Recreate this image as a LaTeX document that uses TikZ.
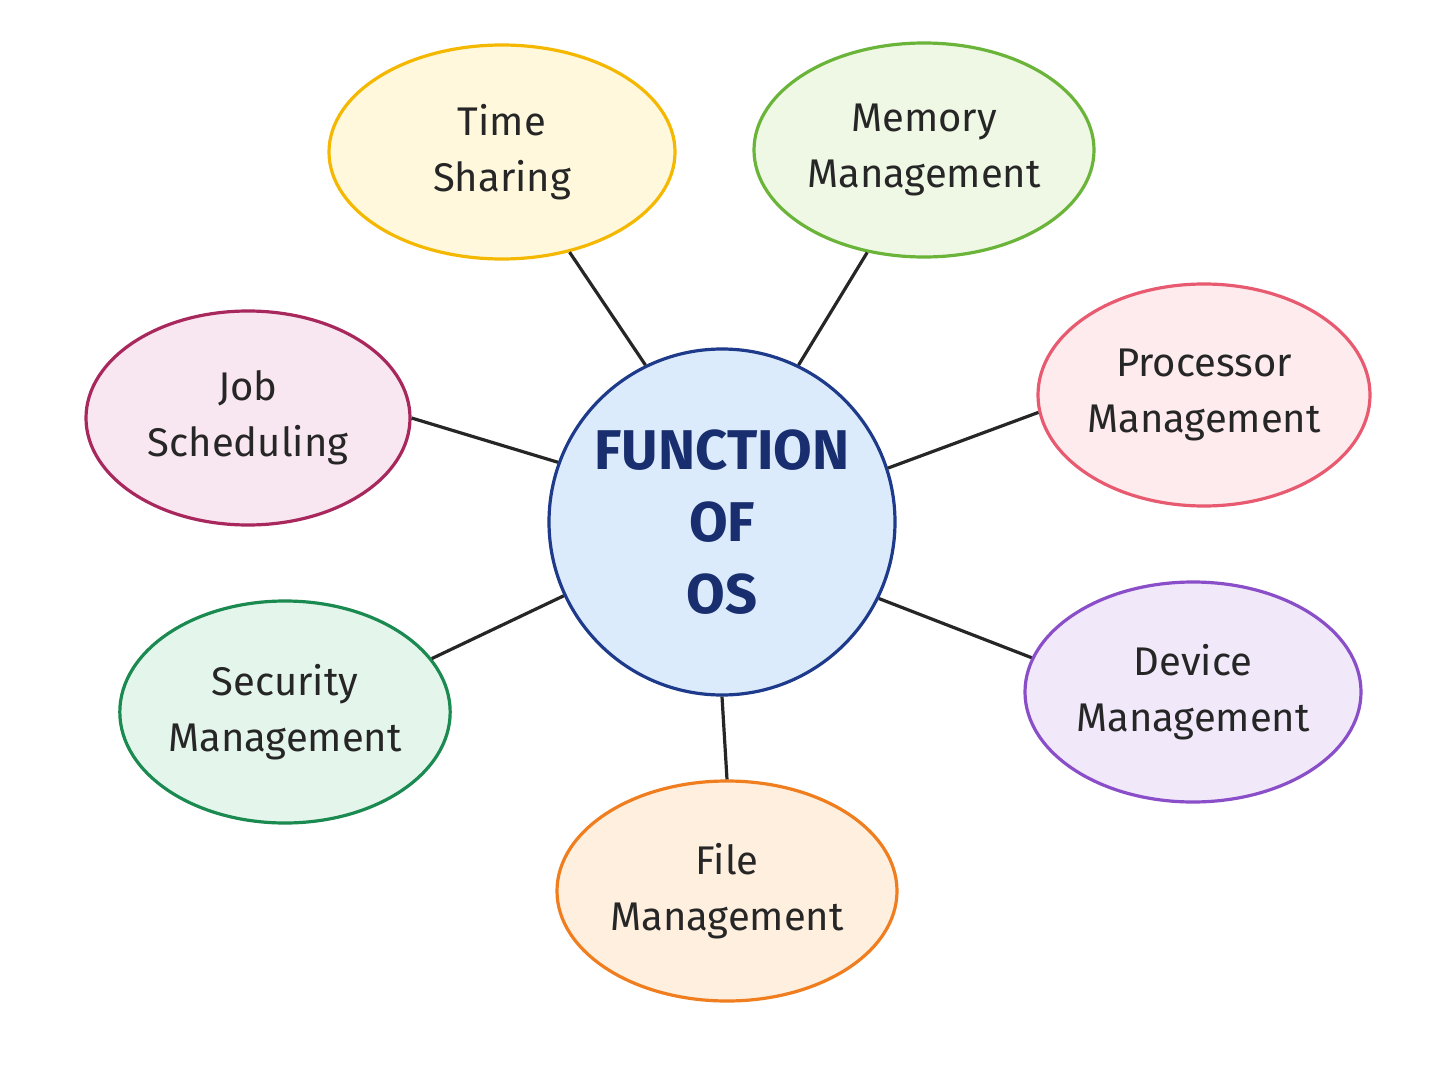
\documentclass[tikz,border=0pt]{standalone}
\usepackage{fontspec}
\setmainfont{Fira Sans}
\usetikzlibrary{shapes.geometric}
\definecolor{cb}{HTML}{1E3A8A}\definecolor{cf}{HTML}{DCEBFC}
\definecolor{yb}{HTML}{F5B800}\definecolor{yf}{HTML}{FFF8DC}
\definecolor{gb}{HTML}{6AB43A}\definecolor{gf}{HTML}{EEF8E4}
\definecolor{rb}{HTML}{E85A70}\definecolor{rf}{HTML}{FDEBEE}
\definecolor{pb}{HTML}{8A4FC8}\definecolor{pf}{HTML}{F1E8FA}
\definecolor{ob}{HTML}{F07D1E}\definecolor{of}{HTML}{FEEFDF}
\definecolor{sb}{HTML}{1A8A50}\definecolor{sf}{HTML}{E4F6EC}
\definecolor{mb}{HTML}{A8285E}\definecolor{mf}{HTML}{F8E6F0}
\begin{document}
\begin{tikzpicture}[x=1pt,y=-1pt,
 el/.style={ellipse,line width=3.2pt,inner sep=0pt,align=center,font=\fontsize{40}{56}\selectfont,text=black!85},
 ln/.style={line width=3.2pt,black!85}]
\useasboundingbox[fill=white] (0,0) rectangle (1448,1086);
\node[circle,draw=cb,fill=cf,line width=3.2pt,minimum size=346pt,align=center,text=cb!80!black,font=\fontsize{56}{72}\selectfont\bfseries] (c) at (722,522) {FUNCTION\\OF\\OS};
\node[el,draw=yb,fill=yf,minimum width=346pt,minimum height=214pt] (t) at (502,152) {Time\\Sharing};
\node[el,draw=gb,fill=gf,minimum width=340pt,minimum height=214pt] (m) at (924,150) {Memory\\Management};
\node[el,draw=rb,fill=rf,minimum width=332pt,minimum height=222pt] (p) at (1204,395) {Processor\\Management};
\node[el,draw=pb,fill=pf,minimum width=336pt,minimum height=220pt] (d) at (1193,692) {Device\\Management};
\node[el,draw=ob,fill=of,minimum width=340pt,minimum height=220pt] (f) at (727,891) {File\\Management};
\node[el,draw=sb,fill=sf,minimum width=330pt,minimum height=222pt] (s) at (285,712) {Security\\Management};
\node[el,draw=mb,fill=mf,minimum width=324pt,minimum height=214pt] (j) at (248,418) {Job\\Scheduling};
\draw[ln] (c.116) -- (t.-56);
\draw[ln] (c.64) -- (m.-119);
\draw[ln] (c.18) -- (p.186);
\draw[ln] (c.-26) -- (d.168);
\draw[ln] (c.-90) -- (f.90);
\draw[ln] (c.205) -- (s.20);
\draw[ln] (c.160) -- (j.0);
\end{tikzpicture}
\end{document}
